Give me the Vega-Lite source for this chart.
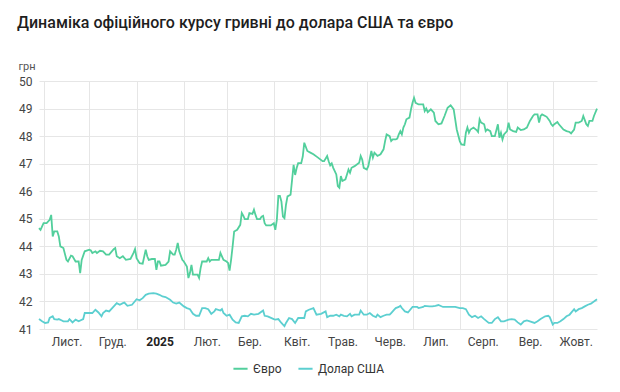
{
"$schema": "https://vega.github.io/schema/vega-lite/v6.json",
"width": 558, "height": 248,
"autosize": {"type": "none"},
"padding": {"left": 39, "top": 81, "right": 23, "bottom": 63},
"background": "white",
"config": {"font": "Roboto", "view": {"stroke": null}},
"title": {"text": "Динаміка офіційного курсу гривні до долара США та євро", "anchor": "start", "frame": "group", "dx": -22, "offset": 29, "fontSize": 16, "fontWeight": 500, "color": "#1e1e1e", "font": "Roboto"},
"datasets": {
"eur": [
{"d":"2024-10-29","v":44.66},{"d":"2024-10-30","v":44.60},{"d":"2024-11-01","v":44.84},{"d":"2024-11-03","v":44.84},{"d":"2024-11-05","v":44.96},{"d":"2024-11-06","v":45.14},{"d":"2024-11-07","v":44.36},{"d":"2024-11-08","v":44.54},{"d":"2024-11-10","v":44.54},{"d":"2024-11-11","v":44.36},{"d":"2024-11-12","v":44.00},{"d":"2024-11-14","v":43.94},{"d":"2024-11-16","v":43.51},{"d":"2024-11-17","v":43.45},{"d":"2024-11-19","v":43.66},{"d":"2024-11-20","v":43.64},{"d":"2024-11-22","v":43.45},{"d":"2024-11-24","v":43.45},{"d":"2024-11-25","v":43.03},{"d":"2024-11-26","v":43.51},{"d":"2024-11-28","v":43.82},{"d":"2024-12-01","v":43.88},{"d":"2024-12-02","v":43.85},{"d":"2024-12-03","v":43.76},{"d":"2024-12-05","v":43.82},{"d":"2024-12-06","v":43.76},{"d":"2024-12-08","v":43.84},{"d":"2024-12-10","v":43.82},{"d":"2024-12-12","v":43.70},{"d":"2024-12-14","v":43.70},{"d":"2024-12-17","v":43.90},{"d":"2024-12-18","v":43.94},{"d":"2024-12-19","v":43.64},{"d":"2024-12-21","v":43.57},{"d":"2024-12-23","v":43.64},{"d":"2024-12-25","v":43.51},{"d":"2024-12-28","v":43.54},{"d":"2024-12-30","v":43.76},{"d":"2024-12-31","v":43.90},{"d":"2025-01-01","v":43.57},{"d":"2025-01-03","v":43.39},{"d":"2025-01-05","v":43.37},{"d":"2025-01-07","v":43.88},{"d":"2025-01-08","v":43.64},{"d":"2025-01-09","v":43.51},{"d":"2025-01-11","v":43.54},{"d":"2025-01-13","v":43.54},{"d":"2025-01-14","v":43.15},{"d":"2025-01-15","v":43.45},{"d":"2025-01-16","v":43.45},{"d":"2025-01-17","v":43.30},{"d":"2025-01-20","v":43.33},{"d":"2025-01-22","v":43.45},{"d":"2025-01-23","v":43.82},{"d":"2025-01-25","v":43.70},{"d":"2025-01-26","v":43.70},{"d":"2025-01-27","v":43.88},{"d":"2025-01-28","v":44.12},{"d":"2025-01-29","v":43.82},{"d":"2025-01-31","v":43.51},{"d":"2025-02-01","v":43.45},{"d":"2025-02-03","v":43.27},{"d":"2025-02-04","v":42.85},{"d":"2025-02-05","v":43.03},{"d":"2025-02-06","v":43.33},{"d":"2025-02-07","v":42.97},{"d":"2025-02-09","v":42.97},{"d":"2025-02-10","v":42.97},{"d":"2025-02-11","v":42.85},{"d":"2025-02-12","v":43.21},{"d":"2025-02-13","v":43.45},{"d":"2025-02-16","v":43.45},{"d":"2025-02-17","v":43.57},{"d":"2025-02-18","v":43.45},{"d":"2025-02-19","v":43.51},{"d":"2025-02-22","v":43.51},{"d":"2025-02-24","v":43.51},{"d":"2025-02-25","v":43.76},{"d":"2025-02-27","v":43.51},{"d":"2025-03-01","v":43.45},{"d":"2025-03-02","v":43.40},{"d":"2025-03-03","v":43.12},{"d":"2025-03-04","v":43.51},{"d":"2025-03-05","v":44.00},{"d":"2025-03-06","v":44.54},{"d":"2025-03-08","v":44.60},{"d":"2025-03-10","v":44.78},{"d":"2025-03-11","v":45.21},{"d":"2025-03-12","v":45.11},{"d":"2025-03-13","v":44.99},{"d":"2025-03-15","v":44.99},{"d":"2025-03-16","v":45.21},{"d":"2025-03-18","v":45.18},{"d":"2025-03-19","v":45.33},{"d":"2025-03-20","v":45.14},{"d":"2025-03-21","v":44.99},{"d":"2025-03-23","v":44.99},{"d":"2025-03-24","v":45.08},{"d":"2025-03-25","v":45.11},{"d":"2025-03-26","v":44.84},{"d":"2025-03-27","v":44.76},{"d":"2025-03-30","v":44.76},{"d":"2025-04-01","v":44.84},{"d":"2025-04-02","v":44.60},{"d":"2025-04-03","v":44.96},{"d":"2025-04-04","v":45.83},{"d":"2025-04-05","v":45.83},{"d":"2025-04-06","v":45.63},{"d":"2025-04-07","v":45.08},{"d":"2025-04-08","v":45.02},{"d":"2025-04-09","v":45.51},{"d":"2025-04-10","v":45.81},{"d":"2025-04-12","v":45.87},{"d":"2025-04-13","v":46.41},{"d":"2025-04-14","v":46.96},{"d":"2025-04-15","v":46.59},{"d":"2025-04-16","v":46.84},{"d":"2025-04-17","v":47.02},{"d":"2025-04-19","v":47.02},{"d":"2025-04-20","v":47.26},{"d":"2025-04-21","v":47.76},{"d":"2025-04-23","v":47.46},{"d":"2025-04-25","v":47.40},{"d":"2025-04-27","v":47.34},{"d":"2025-04-30","v":47.22},{"d":"2025-05-03","v":47.09},{"d":"2025-05-04","v":47.09},{"d":"2025-05-06","v":47.28},{"d":"2025-05-07","v":47.09},{"d":"2025-05-08","v":46.94},{"d":"2025-05-09","v":47.01},{"d":"2025-05-10","v":46.85},{"d":"2025-05-12","v":46.61},{"d":"2025-05-13","v":46.19},{"d":"2025-05-14","v":46.13},{"d":"2025-05-15","v":46.55},{"d":"2025-05-16","v":46.37},{"d":"2025-05-18","v":46.43},{"d":"2025-05-19","v":46.61},{"d":"2025-05-20","v":46.79},{"d":"2025-05-21","v":46.67},{"d":"2025-05-22","v":46.85},{"d":"2025-05-24","v":46.91},{"d":"2025-05-27","v":47.03},{"d":"2025-05-28","v":47.28},{"d":"2025-05-29","v":47.15},{"d":"2025-05-30","v":46.85},{"d":"2025-06-01","v":46.79},{"d":"2025-06-02","v":46.91},{"d":"2025-06-04","v":47.46},{"d":"2025-06-05","v":47.22},{"d":"2025-06-06","v":47.40},{"d":"2025-06-08","v":47.28},{"d":"2025-06-10","v":47.34},{"d":"2025-06-12","v":47.52},{"d":"2025-06-13","v":47.82},{"d":"2025-06-14","v":48.06},{"d":"2025-06-16","v":48.00},{"d":"2025-06-17","v":47.82},{"d":"2025-06-18","v":47.88},{"d":"2025-06-20","v":47.88},{"d":"2025-06-21","v":47.91},{"d":"2025-06-22","v":48.06},{"d":"2025-06-23","v":48.18},{"d":"2025-06-24","v":48.06},{"d":"2025-06-25","v":48.31},{"d":"2025-06-26","v":48.43},{"d":"2025-06-27","v":48.61},{"d":"2025-06-29","v":48.67},{"d":"2025-06-30","v":48.97},{"d":"2025-07-01","v":49.21},{"d":"2025-07-02","v":49.39},{"d":"2025-07-03","v":49.21},{"d":"2025-07-05","v":49.15},{"d":"2025-07-08","v":49.15},{"d":"2025-07-09","v":48.91},{"d":"2025-07-10","v":49.00},{"d":"2025-07-11","v":48.87},{"d":"2025-07-13","v":48.97},{"d":"2025-07-15","v":48.85},{"d":"2025-07-16","v":48.55},{"d":"2025-07-18","v":48.43},{"d":"2025-07-20","v":48.46},{"d":"2025-07-22","v":48.73},{"d":"2025-07-24","v":49.03},{"d":"2025-07-26","v":49.12},{"d":"2025-07-28","v":48.97},{"d":"2025-07-29","v":48.61},{"d":"2025-07-30","v":48.24},{"d":"2025-08-01","v":47.82},{"d":"2025-08-02","v":47.70},{"d":"2025-08-04","v":47.68},{"d":"2025-08-05","v":48.12},{"d":"2025-08-06","v":48.31},{"d":"2025-08-07","v":48.12},{"d":"2025-08-08","v":48.24},{"d":"2025-08-10","v":48.31},{"d":"2025-08-12","v":48.22},{"d":"2025-08-13","v":48.15},{"d":"2025-08-14","v":48.61},{"d":"2025-08-15","v":48.49},{"d":"2025-08-17","v":48.43},{"d":"2025-08-18","v":48.18},{"d":"2025-08-19","v":48.24},{"d":"2025-08-21","v":48.18},{"d":"2025-08-22","v":48.00},{"d":"2025-08-24","v":48.00},{"d":"2025-08-26","v":48.43},{"d":"2025-08-27","v":47.94},{"d":"2025-08-28","v":48.12},{"d":"2025-08-29","v":47.88},{"d":"2025-08-30","v":48.06},{"d":"2025-09-01","v":48.18},{"d":"2025-09-02","v":48.49},{"d":"2025-09-03","v":48.24},{"d":"2025-09-05","v":48.18},{"d":"2025-09-07","v":48.15},{"d":"2025-09-08","v":48.31},{"d":"2025-09-10","v":48.22},{"d":"2025-09-12","v":48.24},{"d":"2025-09-14","v":48.31},{"d":"2025-09-16","v":48.55},{"d":"2025-09-18","v":48.73},{"d":"2025-09-19","v":48.79},{"d":"2025-09-21","v":48.79},{"d":"2025-09-22","v":48.49},{"d":"2025-09-23","v":48.73},{"d":"2025-09-24","v":48.79},{"d":"2025-09-26","v":48.73},{"d":"2025-09-27","v":48.70},{"d":"2025-09-29","v":48.55},{"d":"2025-09-30","v":48.43},{"d":"2025-10-01","v":48.37},{"d":"2025-10-02","v":48.43},{"d":"2025-10-04","v":48.51},{"d":"2025-10-05","v":48.43},{"d":"2025-10-08","v":48.24},{"d":"2025-10-10","v":48.18},{"d":"2025-10-12","v":48.15},{"d":"2025-10-13","v":48.10},{"d":"2025-10-15","v":48.24},{"d":"2025-10-16","v":48.49},{"d":"2025-10-18","v":48.49},{"d":"2025-10-20","v":48.55},{"d":"2025-10-21","v":48.73},{"d":"2025-10-22","v":48.58},{"d":"2025-10-23","v":48.43},{"d":"2025-10-24","v":48.37},{"d":"2025-10-25","v":48.55},{"d":"2025-10-27","v":48.55},{"d":"2025-10-28","v":48.73},{"d":"2025-10-30","v":49.00}
],
"usd": [
{"d":"2024-10-29","v":41.36},{"d":"2024-10-31","v":41.28},{"d":"2024-11-02","v":41.22},{"d":"2024-11-04","v":41.24},{"d":"2024-11-05","v":41.40},{"d":"2024-11-07","v":41.46},{"d":"2024-11-08","v":41.36},{"d":"2024-11-10","v":41.34},{"d":"2024-11-11","v":41.36},{"d":"2024-11-13","v":41.31},{"d":"2024-11-14","v":41.28},{"d":"2024-11-17","v":41.28},{"d":"2024-11-18","v":41.36},{"d":"2024-11-20","v":41.24},{"d":"2024-11-22","v":41.34},{"d":"2024-11-24","v":41.28},{"d":"2024-11-27","v":41.36},{"d":"2024-11-28","v":41.58},{"d":"2024-12-01","v":41.58},{"d":"2024-12-03","v":41.58},{"d":"2024-12-05","v":41.70},{"d":"2024-12-07","v":41.60},{"d":"2024-12-09","v":41.46},{"d":"2024-12-10","v":41.58},{"d":"2024-12-12","v":41.67},{"d":"2024-12-14","v":41.64},{"d":"2024-12-16","v":41.76},{"d":"2024-12-19","v":41.94},{"d":"2024-12-21","v":41.88},{"d":"2024-12-23","v":41.94},{"d":"2024-12-24","v":41.96},{"d":"2024-12-26","v":41.84},{"d":"2024-12-29","v":41.88},{"d":"2025-01-01","v":42.08},{"d":"2025-01-03","v":42.04},{"d":"2025-01-05","v":42.12},{"d":"2025-01-07","v":42.24},{"d":"2025-01-09","v":42.28},{"d":"2025-01-12","v":42.30},{"d":"2025-01-14","v":42.28},{"d":"2025-01-16","v":42.24},{"d":"2025-01-18","v":42.18},{"d":"2025-01-20","v":42.16},{"d":"2025-01-23","v":42.06},{"d":"2025-01-25","v":41.96},{"d":"2025-01-27","v":41.92},{"d":"2025-01-29","v":41.96},{"d":"2025-02-01","v":41.82},{"d":"2025-02-03","v":41.76},{"d":"2025-02-05","v":41.72},{"d":"2025-02-07","v":41.55},{"d":"2025-02-09","v":41.48},{"d":"2025-02-11","v":41.48},{"d":"2025-02-13","v":41.76},{"d":"2025-02-15","v":41.76},{"d":"2025-02-17","v":41.72},{"d":"2025-02-19","v":41.55},{"d":"2025-02-21","v":41.64},{"d":"2025-02-22","v":41.72},{"d":"2025-02-25","v":41.67},{"d":"2025-02-26","v":41.72},{"d":"2025-02-27","v":41.58},{"d":"2025-03-01","v":41.48},{"d":"2025-03-03","v":41.52},{"d":"2025-03-05","v":41.34},{"d":"2025-03-07","v":41.24},{"d":"2025-03-09","v":41.22},{"d":"2025-03-11","v":41.46},{"d":"2025-03-13","v":41.48},{"d":"2025-03-15","v":41.46},{"d":"2025-03-17","v":41.55},{"d":"2025-03-19","v":41.52},{"d":"2025-03-22","v":41.55},{"d":"2025-03-25","v":41.67},{"d":"2025-03-26","v":41.48},{"d":"2025-03-28","v":41.46},{"d":"2025-04-01","v":41.36},{"d":"2025-04-02","v":41.34},{"d":"2025-04-04","v":41.36},{"d":"2025-04-06","v":41.22},{"d":"2025-04-08","v":41.10},{"d":"2025-04-09","v":41.22},{"d":"2025-04-11","v":41.40},{"d":"2025-04-13","v":41.36},{"d":"2025-04-15","v":41.22},{"d":"2025-04-17","v":41.40},{"d":"2025-04-19","v":41.40},{"d":"2025-04-21","v":41.40},{"d":"2025-04-22","v":41.64},{"d":"2025-04-24","v":41.70},{"d":"2025-04-27","v":41.76},{"d":"2025-04-29","v":41.52},{"d":"2025-05-02","v":41.55},{"d":"2025-05-05","v":41.64},{"d":"2025-05-06","v":41.43},{"d":"2025-05-08","v":41.48},{"d":"2025-05-10","v":41.48},{"d":"2025-05-12","v":41.52},{"d":"2025-05-14","v":41.46},{"d":"2025-05-15","v":41.52},{"d":"2025-05-17","v":41.48},{"d":"2025-05-19","v":41.46},{"d":"2025-05-21","v":41.55},{"d":"2025-05-22","v":41.46},{"d":"2025-05-24","v":41.52},{"d":"2025-05-27","v":41.52},{"d":"2025-05-28","v":41.67},{"d":"2025-05-30","v":41.52},{"d":"2025-06-01","v":41.52},{"d":"2025-06-03","v":41.58},{"d":"2025-06-05","v":41.48},{"d":"2025-06-07","v":41.43},{"d":"2025-06-08","v":41.52},{"d":"2025-06-10","v":41.43},{"d":"2025-06-12","v":41.48},{"d":"2025-06-14","v":41.52},{"d":"2025-06-16","v":41.52},{"d":"2025-06-17","v":41.58},{"d":"2025-06-19","v":41.70},{"d":"2025-06-20","v":41.76},{"d":"2025-06-22","v":41.80},{"d":"2025-06-23","v":41.84},{"d":"2025-06-24","v":41.76},{"d":"2025-06-26","v":41.64},{"d":"2025-06-28","v":41.60},{"d":"2025-07-01","v":41.80},{"d":"2025-07-04","v":41.80},{"d":"2025-07-05","v":41.76},{"d":"2025-07-08","v":41.80},{"d":"2025-07-09","v":41.84},{"d":"2025-07-12","v":41.82},{"d":"2025-07-14","v":41.82},{"d":"2025-07-16","v":41.84},{"d":"2025-07-18","v":41.87},{"d":"2025-07-21","v":41.80},{"d":"2025-07-23","v":41.80},{"d":"2025-07-26","v":41.80},{"d":"2025-07-29","v":41.80},{"d":"2025-08-01","v":41.76},{"d":"2025-08-03","v":41.76},{"d":"2025-08-05","v":41.72},{"d":"2025-08-07","v":41.52},{"d":"2025-08-09","v":41.43},{"d":"2025-08-11","v":41.48},{"d":"2025-08-13","v":41.40},{"d":"2025-08-15","v":41.46},{"d":"2025-08-17","v":41.36},{"d":"2025-08-20","v":41.22},{"d":"2025-08-22","v":41.22},{"d":"2025-08-24","v":41.36},{"d":"2025-08-26","v":41.43},{"d":"2025-08-28","v":41.28},{"d":"2025-08-30","v":41.28},{"d":"2025-09-02","v":41.34},{"d":"2025-09-04","v":41.36},{"d":"2025-09-06","v":41.34},{"d":"2025-09-08","v":41.24},{"d":"2025-09-10","v":41.16},{"d":"2025-09-12","v":41.28},{"d":"2025-09-14","v":41.31},{"d":"2025-09-16","v":41.28},{"d":"2025-09-19","v":41.22},{"d":"2025-09-21","v":41.28},{"d":"2025-09-23","v":41.36},{"d":"2025-09-26","v":41.46},{"d":"2025-09-28","v":41.48},{"d":"2025-09-29","v":41.43},{"d":"2025-10-01","v":41.16},{"d":"2025-10-02","v":41.22},{"d":"2025-10-04","v":41.22},{"d":"2025-10-06","v":41.28},{"d":"2025-10-08","v":41.36},{"d":"2025-10-10","v":41.46},{"d":"2025-10-12","v":41.52},{"d":"2025-10-15","v":41.72},{"d":"2025-10-16","v":41.64},{"d":"2025-10-18","v":41.72},{"d":"2025-10-20","v":41.76},{"d":"2025-10-22","v":41.82},{"d":"2025-10-24","v":41.88},{"d":"2025-10-26","v":41.92},{"d":"2025-10-30","v":42.08}
]
},
"encoding": {
"x": {"field": "d", "type": "temporal",
 "scale": {"domain": [{"year": 2024, "month": 10, "date": 29, "utc": true}, {"year": 2025, "month": 10, "date": 30, "utc": true}]},
 "axis": {"title": null, "tickCount": {"interval": "month", "step": 1}, "grid": true, "gridColor": "#e6e6e6", "domain": false, "ticks": false,
  "labelExpr": "month(datum.value)==0 ? timeFormat(datum.value,'%Y') : ['Січ.','Лют.','Бер.','Квіт.','Трав.','Черв.','Лип.','Серп.','Вер.','Жовт.','Лист.','Груд.'][month(datum.value)]",
  "labelOffset": 23, "labelAlign": "center", "labelPadding": 7, "labelFontSize": 12, "labelFont": "Roboto",
  "labelFontWeight": {"condition": {"test": "month(datum.value)==0", "value": "bold"}, "value": "normal"},
  "labelColor": {"condition": {"test": "month(datum.value)==0", "value": "#222"}, "value": "#444"}}},
"y": {"field": "v", "type": "quantitative",
 "scale": {"domain": [41, 50], "nice": false, "zero": false},
 "axis": {"values": [41,42,43,44,45,46,47,48,49,50], "title": "грн", "titleAngle": 0, "titleX": -21, "titleY": -10, "titleAlign": "left", "titleBaseline": "bottom", "titleFontSize": 11, "titleFontWeight": "normal", "titleColor": "#555", "titleFont": "Roboto",
  "grid": true, "gridColor": "#e6e6e6", "domain": false, "ticks": false, "labelPadding": 7, "labelFontSize": 12, "labelColor": "#444", "labelFont": "Roboto"}},
"color": {"type": "nominal",
 "scale": {"domain": ["Євро", "Долар США"], "range": ["#52cf9c", "#5ccfd0"]},
 "legend": {"title": null, "orient": "none", "legendX": 193, "legendY": 279, "direction": "horizontal", "symbolType": "stroke", "symbolStrokeWidth": 2, "symbolSize": 200, "labelFontSize": 12, "labelColor": "#333", "labelFont": "Roboto", "columnPadding": 12, "symbolOffset": 0}}
},
"layer": [
{"data": {"name": "eur"}, "mark": {"type": "line", "strokeWidth": 1.8}, "encoding": {"color": {"datum": "Євро"}}},
{"data": {"name": "usd"}, "mark": {"type": "line", "strokeWidth": 1.8}, "encoding": {"color": {"datum": "Долар США"}}}
]
}
